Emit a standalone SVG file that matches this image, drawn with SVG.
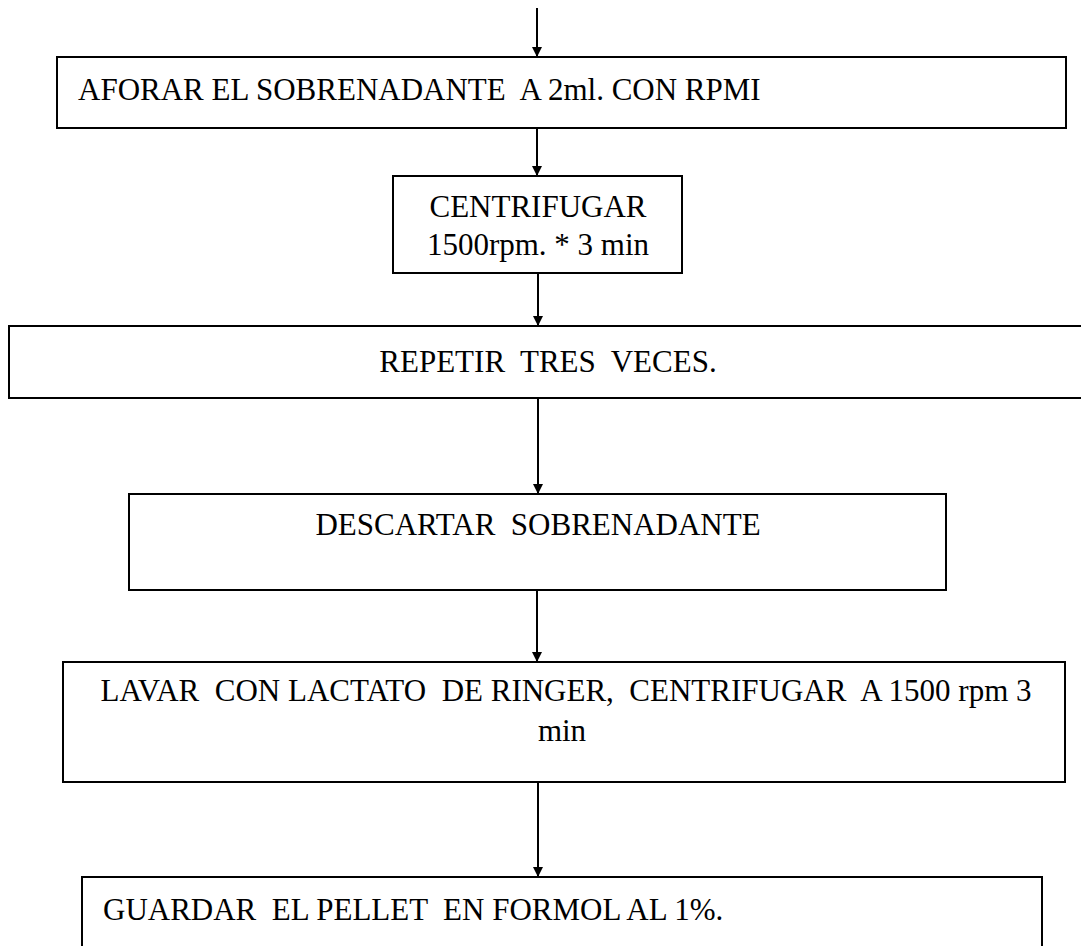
<svg xmlns="http://www.w3.org/2000/svg" width="1081" height="946" viewBox="0 0 1081 946" xml:space="preserve">
<style>
.box{fill:#fff;stroke:#000;stroke-width:2}
.t{font-family:"Liberation Serif","Times New Roman",serif;font-size:31px;fill:#000;white-space:pre}
.c{text-anchor:middle}
.conn line{stroke:#000;stroke-width:2}
</style>
<defs>
<marker id="ah" viewBox="0 0 10 12" refX="10" refY="6" markerWidth="10" markerHeight="12" markerUnits="userSpaceOnUse" orient="auto">
<path d="M0,1 L10,6 L0,11 Z" fill="#000"/>
</marker>
</defs>
<rect width="1081" height="946" fill="#fff"/>
<g id="n1"><rect class="box" x="57" y="57" width="1009" height="71"/><text class="t" x="78" y="100">AFORAR EL SOBRENADANTE  A 2ml. CON RPMI</text></g>
<g id="n2"><rect class="box" x="393" y="176" width="289" height="97"/><text class="t c" x="538" y="217">CENTRIFUGAR</text><text class="t c" x="538" y="255">1500rpm. * 3 min</text></g>
<g id="n3"><rect class="box" x="9" y="326" width="1090" height="72"/><text class="t c" x="548" y="372">REPETIR  TRES  VECES.</text></g>
<g id="n4"><rect class="box" x="129" y="494" width="817" height="96"/><text class="t c" x="538" y="535">DESCARTAR  SOBRENADANTE</text></g>
<g id="n5"><rect class="box" x="63" y="662" width="1002" height="120"/><text class="t c" x="566" y="701">LAVAR  CON LACTATO  DE RINGER,  CENTRIFUGAR  A 1500 rpm 3</text><text class="t c" x="562" y="741">min</text></g>
<g id="n6"><rect class="box" x="82" y="877" width="960" height="90"/><text class="t" x="103" y="920">GUARDAR  EL PELLET  EN FORMOL AL 1%.</text></g>
<g id="connectors" class="conn">
<line x1="537" y1="8" x2="537" y2="57" marker-end="url(#ah)"/>
<line x1="537" y1="128" x2="537" y2="176" marker-end="url(#ah)"/>
<line x1="538" y1="273" x2="538" y2="326" marker-end="url(#ah)"/>
<line x1="538" y1="398" x2="538" y2="494" marker-end="url(#ah)"/>
<line x1="537" y1="590" x2="537" y2="662" marker-end="url(#ah)"/>
<line x1="538" y1="782" x2="538" y2="877" marker-end="url(#ah)"/>
</g>
</svg>
